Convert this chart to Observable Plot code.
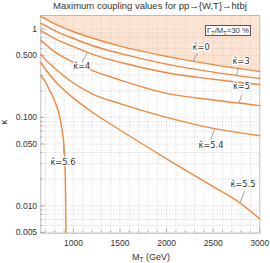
<!DOCTYPE html>
<html><head><meta charset="utf-8">
<script src="https://cdn.jsdelivr.net/npm/d3@7"></script>
<script src="https://cdn.jsdelivr.net/npm/@observablehq/plot@0.6"></script>
<style>
body{margin:0;background:#fff;}
#wrap{position:relative;width:270px;height:263px;font-family:"Liberation Sans",Arial,sans-serif;color:#333;}
.ov{position:absolute;white-space:nowrap;}
#title{left:0;width:300px;top:0;text-align:center;font-size:9.5px;line-height:12px;}
#xlab{left:0;width:302px;top:251px;text-align:center;font-size:9px;line-height:12px;}
#ylab{left:2px;top:116px;font-size:9px;line-height:12px;transform:rotate(-90deg);}
#box{left:205px;top:24.5px;width:46px;height:11.5px;box-sizing:border-box;border:1.3px solid #555;background:#fff;font-size:7.8px;line-height:9px;text-align:center;}
sub{font-size:70%;vertical-align:-1.5px;line-height:0;}
</style></head><body>
<div id="wrap">
<div id="chart"></div>
<div id="title" class="ov">Maximum coupling values for pp→{W,T}→htbj</div>
<div id="xlab" class="ov">M<sub>T</sub> (GeV)</div>
<div id="ylab" class="ov">κ</div>
<div id="box" class="ov">Γ<sub>T</sub>/M<sub>T</sub>=30 %</div>
</div>
<script>
// ---- data ----
const massGeV   = [650, 700, 800, 1000, 1200, 1500, 2000, 2500, 3000];
const kappa0    = [1.38, 1.30, 1.14, 0.93, 0.79, 0.64, 0.49, 0.395, 0.33];
const kappa3    = [1.16, 1.09, 0.96, 0.78, 0.65, 0.53, 0.40, 0.325, 0.275];
const kappa4    = [0.95, 0.89, 0.78, 0.63, 0.52, 0.42, 0.32, 0.27, 0.235];
const kappa5    = [0.75, 0.67, 0.55, 0.42, 0.34, 0.265, 0.187, 0.157, 0.136];
const kappa54   = [0.52, 0.45, 0.36, 0.245, 0.185, 0.143, 0.10, 0.075, 0.062];
const mass55    = [650, 700, 800, 1000, 1200, 1500, 2000, 2500, 2750, 3000];
const kappa55   = [0.42, 0.35, 0.26, 0.165, 0.115, 0.072, 0.034, 0.0165, 0.0115, 0.0071];
const mass56    = [650, 700, 750, 800, 850, 880, 900, 910, 915, 918, 920];
const kappa56   = [0.30, 0.25, 0.197, 0.152, 0.105, 0.07, 0.045, 0.027, 0.016, 0.009, 0.005];

const labelText = ["κ\u0302=0", "κ\u0302=3", "κ\u0302=4", "κ\u0302=5", "κ\u0302=5.4", "κ\u0302=5.5", "κ\u0302=5.6"];
const labelM    = [2371, 2800, 1090, 2803, 2476, 2820, 888];
const labelK    = [0.612, 0.432, 0.373, 0.223, 0.0486, 0.0173, 0.031];
const footM     = [2328, 2774, 1094, 2809, 2471, 2836, 897];
const footK     = [0.524, 0.369, 0.421, 0.181, 0.0556, 0.0146, 0.0389];
const tipM      = [2285, 2750, 1154, 2774, 2517, 2787, 897];

const xTicks = [1000, 1500, 2000, 2500, 3000];
const xTickLabels = ["1000", "1500", "2000", "2500", "3000"];
const yTicks = [0.005, 0.01, 0.05, 0.1, 0.5, 1];
const yTickLabels = ["0.005", "0.010", "0.050", "0.100", "0.500", "1"];

const xDomain = [650, 3000];
const yDomain = [0.0049, 1.42];

// ---- build tables ----
const curves = [
  {name: "0", M: massGeV, k: kappa0},
  {name: "3", M: massGeV, k: kappa3},
  {name: "4", M: massGeV, k: kappa4},
  {name: "5", M: massGeV, k: kappa5},
  {name: "5.4", M: massGeV, k: kappa54},
  {name: "5.5", M: mass55, k: kappa55},
  {name: "5.6", M: mass56, k: kappa56}
];
const rows = curves.flatMap(c => c.M.map((m, i) => ({curve: c.name, M: m, k: c.k[i]})));
const k0rows = massGeV.map((m, i) => ({M: m, k: kappa0[i]}));

function interpLog(Ms, ks, m) {
  for (let i = 0; i < Ms.length - 1; i++) {
    if (m >= Ms[i] && m <= Ms[i + 1]) {
      const t = (m - Ms[i]) / (Ms[i + 1] - Ms[i]);
      return Math.exp(Math.log(ks[i]) * (1 - t) + Math.log(ks[i + 1]) * t);
    }
  }
  return ks[ks.length - 1];
}
const labels = labelText.map((t, i) => ({t, M: labelM[i], k: labelK[i]}));
const pointers = labelText.map((t, i) => ({
  fM: footM[i], fK: footK[i], tM: tipM[i],
  tK: interpLog(curves[i].M, curves[i].k, tipM[i])
}));
const yTickRows = yTicks.map((v, i) => ({v, s: yTickLabels[i]}));

const gridMass = d3.range(700, 3000, 100);
const gridKappa = d3.scaleLog().domain(yDomain).ticks();
const minorY = gridKappa.filter(v => !yTicks.some(t => Math.abs(t - v) / t < 1e-6));
const minorX = gridMass.filter(v => !xTicks.includes(v));

const orange = "#f0883e";
const grid = {stroke: "#c9c9c9", strokeOpacity: 1, strokeWidth: 0.7, strokeDasharray: "1.2,1.6"};

const chart = Plot.plot({
  width: 270, height: 263,
  marginTop: 15, marginBottom: 30.3, marginLeft: 40.3, marginRight: 10.7,
  style: {fontFamily: "'Liberation Sans', Arial, sans-serif", fontSize: "8.5px", color: "#333", background: "transparent"},
  x: {domain: xDomain},
  y: {type: "log", domain: yDomain},
  marks: [
    Plot.areaY(k0rows, {x: "M", y1: "k", y2: () => yDomain[1], fill: "#fde4d2", curve: "monotone-x"}),
    Plot.gridX(gridMass, grid),
    Plot.gridY(gridKappa, grid),
    Plot.frame({stroke: "#b0b0b0", strokeWidth: 0.8}),
    Plot.axisX(xTicks, {anchor: "bottom", tickSize: -4, tickPadding: 11, stroke: "#aaa", fill: "#333",
      tickFormat: d => xTickLabels[xTicks.indexOf(d)], label: null}),
    Plot.axisX(minorX, {anchor: "bottom", tickSize: -2.2, stroke: "#aaa", tickFormat: () => "", label: null}),
    Plot.axisY(yTicks, {anchor: "left", tickSize: -4, stroke: "#aaa", tickFormat: () => "", label: null}),
    Plot.axisY(minorY, {anchor: "left", tickSize: -2.2, stroke: "#aaa", tickFormat: () => "", label: null}),
    Plot.text(yTickRows, {y: "v", text: "s", frameAnchor: "left", textAnchor: "end", dx: -3.7, fill: "#333", fontSize: 8.5}),
    Plot.line(rows, {x: "M", y: "k", z: "curve", stroke: orange, strokeWidth: 1.4, curve: "monotone-x"}),
    Plot.link(pointers, {x1: "fM", y1: "fK", x2: "tM", y2: "tK", stroke: "#999", strokeWidth: 0.9}),
    Plot.text(labels, {x: "M", y: "k", text: "t", fill: "#333", stroke: "white", strokeWidth: 2.5,
      fontSize: 8.3, fontFamily: "'DejaVu Sans', sans-serif"})
  ]
});
document.getElementById("chart").appendChild(chart);
</script>
</body></html>
